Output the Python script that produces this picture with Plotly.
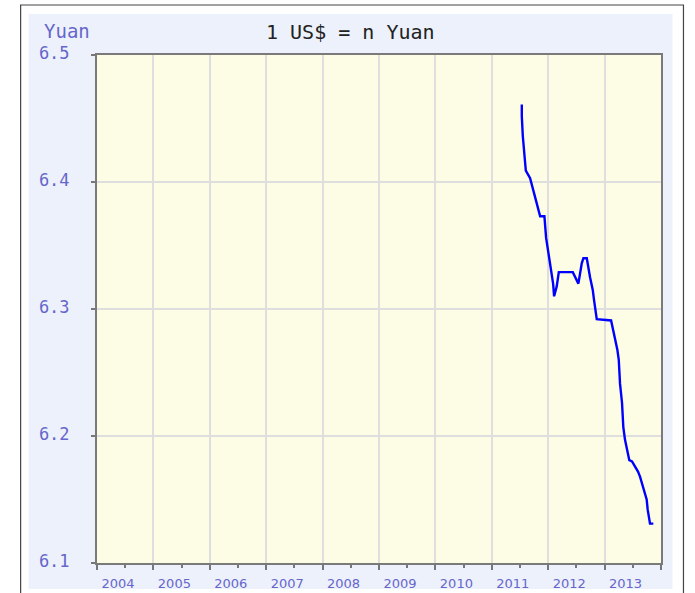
import plotly.graph_objects as go

# Data (decimal years, CNY per USD)
years = [2011.532, 2011.532, 2011.550, 2011.578, 2011.603, 2011.679, 2011.738, 2011.798,
         2011.857, 2011.933, 2011.963, 2011.998, 2012.021, 2012.052, 2012.087, 2012.105,
         2012.152, 2012.188, 2012.436, 2012.535, 2012.595, 2012.624, 2012.684, 2012.742,
         2012.790, 2012.813, 2012.861, 2013.115, 2013.155, 2013.185, 2013.226, 2013.251,
         2013.274, 2013.309, 2013.332, 2013.362, 2013.398, 2013.438, 2013.486, 2013.539,
         2013.592, 2013.628, 2013.663, 2013.716, 2013.746, 2013.764, 2013.787, 2013.805,
         2013.864]
yuan = [6.461, 6.452, 6.436, 6.419, 6.409, 6.403, 6.394, 6.383,
        6.373, 6.373, 6.356, 6.346, 6.336, 6.327, 6.320, 6.310,
        6.318, 6.329, 6.329, 6.320, 6.336, 6.340, 6.340, 6.325,
        6.315, 6.307, 6.292, 6.291, 6.283, 6.276, 6.268, 6.260,
        6.241, 6.226, 6.207, 6.197, 6.189, 6.181, 6.180, 6.176,
        6.172, 6.168, 6.163, 6.156, 6.150, 6.142, 6.135, 6.131,
        6.131]

year_ticks = [2004, 2005, 2006, 2007, 2008, 2009, 2010, 2011, 2012, 2013, 2014]
year_labels = ["2004", "2005", "2006", "2007", "2008", "2009", "2010", "2011", "2012", "2013", ""]
y_ticks = [6.1, 6.2, 6.3, 6.4, 6.5]
y_labels = ["6.1", "6.2", "6.3", "6.4", "6.5"]

W, H = 695, 593
L, R, T, B = 96.5, 661.5, 55, 563
pw, ph = R - L, B - T

def px(x):
    return (x - L) / pw

def py(y):
    return (B - y) / ph

fig = go.Figure()
fig.add_trace(go.Scatter(x=years, y=yuan, mode="lines",
                         line=dict(color="#0000ff", width=2.4),
                         hoverinfo="x+y", showlegend=False))

label_col = "#6666cc"
fig.update_layout(
    width=W, height=H,
    margin=dict(l=L, r=W - R, t=T, b=H - B, pad=0, autoexpand=False),
    paper_bgcolor="white",
    plot_bgcolor="#fdfde6",
    showlegend=False,
    xaxis=dict(range=[2004, 2014], tickmode="array", tickvals=year_ticks, ticktext=year_labels,
               automargin=False,
               ticks="outside", ticklen=5, tickcolor="#777777", tickwidth=1.5,
               ticklabelshift=21, ticklabelstandoff=2,
               minor=dict(tickmode="linear", tick0=2004.5, dtick=1, ticks="outside",
                          ticklen=3, tickcolor="#777777", showgrid=False),
               showgrid=True, gridcolor="#dedede", gridwidth=1.5,
               showline=True, linecolor="#7a7a7a", linewidth=2, mirror=True,
               zeroline=False,
               tickfont=dict(family="DejaVu Sans", size=13, color=label_col)),
    yaxis=dict(range=[6.1, 6.5], tickmode="array", tickvals=y_ticks, ticktext=y_labels,
               automargin=False,
               ticks="outside", ticklen=4, tickcolor="#777777", tickwidth=1.5,
               ticklabelstandoff=18, ticklabelshift=-2,
               showgrid=True, gridcolor="#dedede", gridwidth=1.5,
               showline=True, linecolor="#7a7a7a", linewidth=2, mirror=True,
               zeroline=False,
               tickfont=dict(family="DejaVu Sans Mono", size=17, color=label_col)),
    shapes=[
        dict(type="rect", xref="paper", yref="paper", layer="below",
             x0=px(20), x1=px(684), y0=py(610), y1=py(5),
             line=dict(color="#444444", width=1.2), fillcolor="white"),
        dict(type="rect", xref="paper", yref="paper", layer="below",
             x0=px(28), x1=px(673), y0=py(589), y1=py(14),
             line=dict(width=0), fillcolor="#edf1fb"),
        dict(type="rect", xref="paper", yref="paper", layer="below",
             x0=0, x1=1, y0=0, y1=1,
             line=dict(width=0), fillcolor="#fdfde6"),
    ],
    annotations=[
        dict(text="1 US$ = n Yuan", xref="paper", yref="paper",
             x=px(350), y=py(31.5), xanchor="center", yanchor="middle", showarrow=False,
             font=dict(family="DejaVu Sans Mono", size=20, color="#222222")),
        dict(text="Yuan", xref="paper", yref="paper",
             x=px(41), y=py(31), xanchor="left", yanchor="middle", showarrow=False,
             font=dict(family="DejaVu Sans Mono", size=19, color="#6666cc")),
    ],
)

fig.write_html("out.html", config={"displayModeBar": False},
               post_script="document.body.style.margin='0px';")
